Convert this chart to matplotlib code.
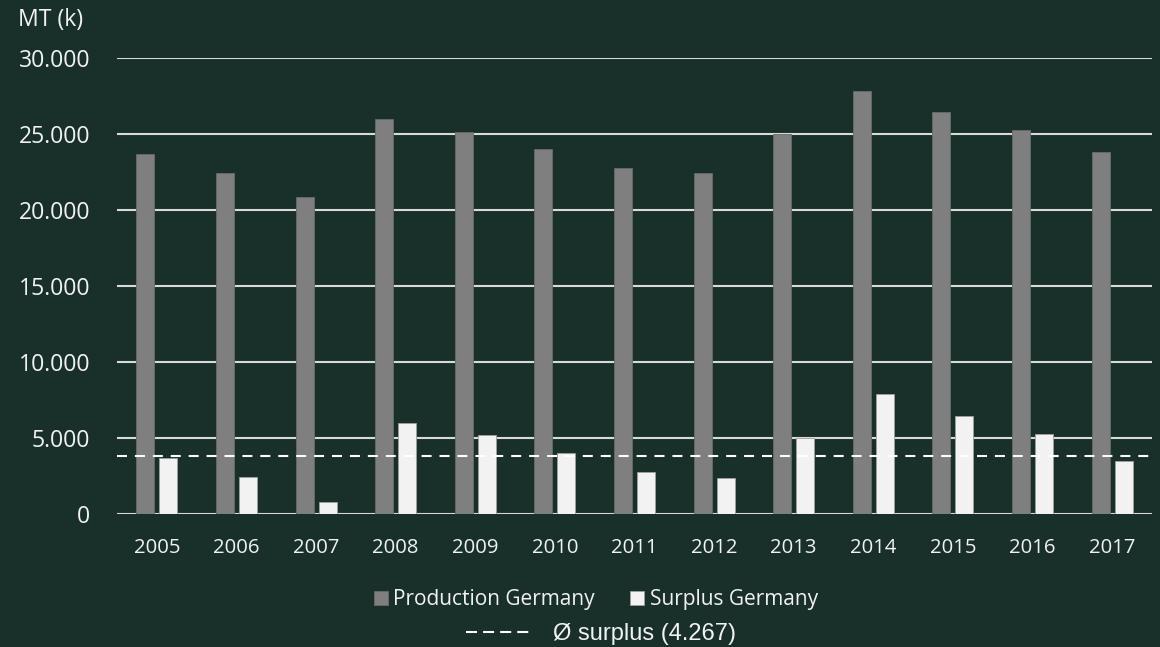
import matplotlib
matplotlib.use('Agg')
import matplotlib.pyplot as plt
import numpy as np
from matplotlib.lines import Line2D

# values (MT, thousands)
years = ['2005', '2006', '2007', '2008', '2009', '2010', '2011', '2012', '2013', '2014', '2015', '2016', '2017']
production = [23700, 22430, 20850, 25990, 25130, 24010, 22760, 22430, 25000, 27850, 26450, 25260, 23815]
surplus = [3680, 2430, 790, 5990, 5200, 4010, 2760, 2370, 5000, 7890, 6450, 5260, 3490]
surplus_avg_line = 3820
surplus_avg_label = 'Ø surplus (4.267)'
yticks = [0, 5000, 10000, 15000, 20000, 25000, 30000]
ytick_labels = ['0', '5.000', '10.000', '15.000', '20.000', '25.000', '30.000']

BG = '#19302a'
FG = '#f2f2f2'
GRID = '#d9d9d9'
PROD = '#7f7f7f'
SURP = '#f2f2f2'

plt.rcParams['font.family'] = ['Open Sans', 'DejaVu Sans']

fig = plt.figure(figsize=(11.6, 6.47), dpi=100, facecolor=BG)
ax = fig.add_axes([0.1009, 0.2056, 0.8921, 0.7048], facecolor=BG)

x = np.arange(len(years))
w = 0.226
ax.set_axisbelow(True)
ax.yaxis.grid(True, color=GRID, lw=1.5)
ax.bar(x - 0.145, production, width=w, color=PROD, edgecolor='#6a6a6a', lw=0.6,
       label='Production Germany', zorder=2)
ax.bar(x + 0.145, surplus, width=w, color=SURP, edgecolor='#a0a0a0', lw=0.6,
       label='Surplus Germany', zorder=2)
ax.axhline(surplus_avg_line, color='white', lw=1.5, dashes=(4.8, 3.8), zorder=3)

ax.set_xlim(-0.5, len(years) - 0.5)
ax.set_ylim(0, 30000)
ax.set_yticks(yticks)
ax.set_yticklabels(ytick_labels)
ax.set_xticks(x)
ax.set_xticklabels(years)
ax.tick_params(axis='both', length=0, colors=FG)
ax.tick_params(axis='y', pad=19.5, labelsize=16.6)
ax.tick_params(axis='x', pad=17, labelsize=14.6)
for s in ax.spines.values():
    s.set_visible(False)

fig.text(18 / 1160, 1 - 20 / 647, 'MT (k)', color=FG, fontsize=16.6, va='center', ha='left')

h1, l1 = ax.get_legend_handles_labels()
leg = fig.legend(h1, l1, loc='center', bbox_to_anchor=(596 / 1160, 1 - 600 / 647), ncol=2,
                 frameon=False, fontsize=15, labelcolor=FG, handlelength=0.67, handleheight=0.67,
                 handletextpad=0.25, columnspacing=1.7, borderpad=0)
dash = Line2D([0], [0], color='white', lw=1.5, dashes=(5.3, 2.9))
leg2 = fig.legend([dash], [surplus_avg_label], loc='center', bbox_to_anchor=(601 / 1160, 1 - 634 / 647),
                  frameon=False, labelcolor=FG, handlelength=2.8, handletextpad=0.85, borderpad=0,
                  prop={'family': 'Liberation Sans', 'size': 17})

fig.savefig('out.png', dpi=100, facecolor=BG)
